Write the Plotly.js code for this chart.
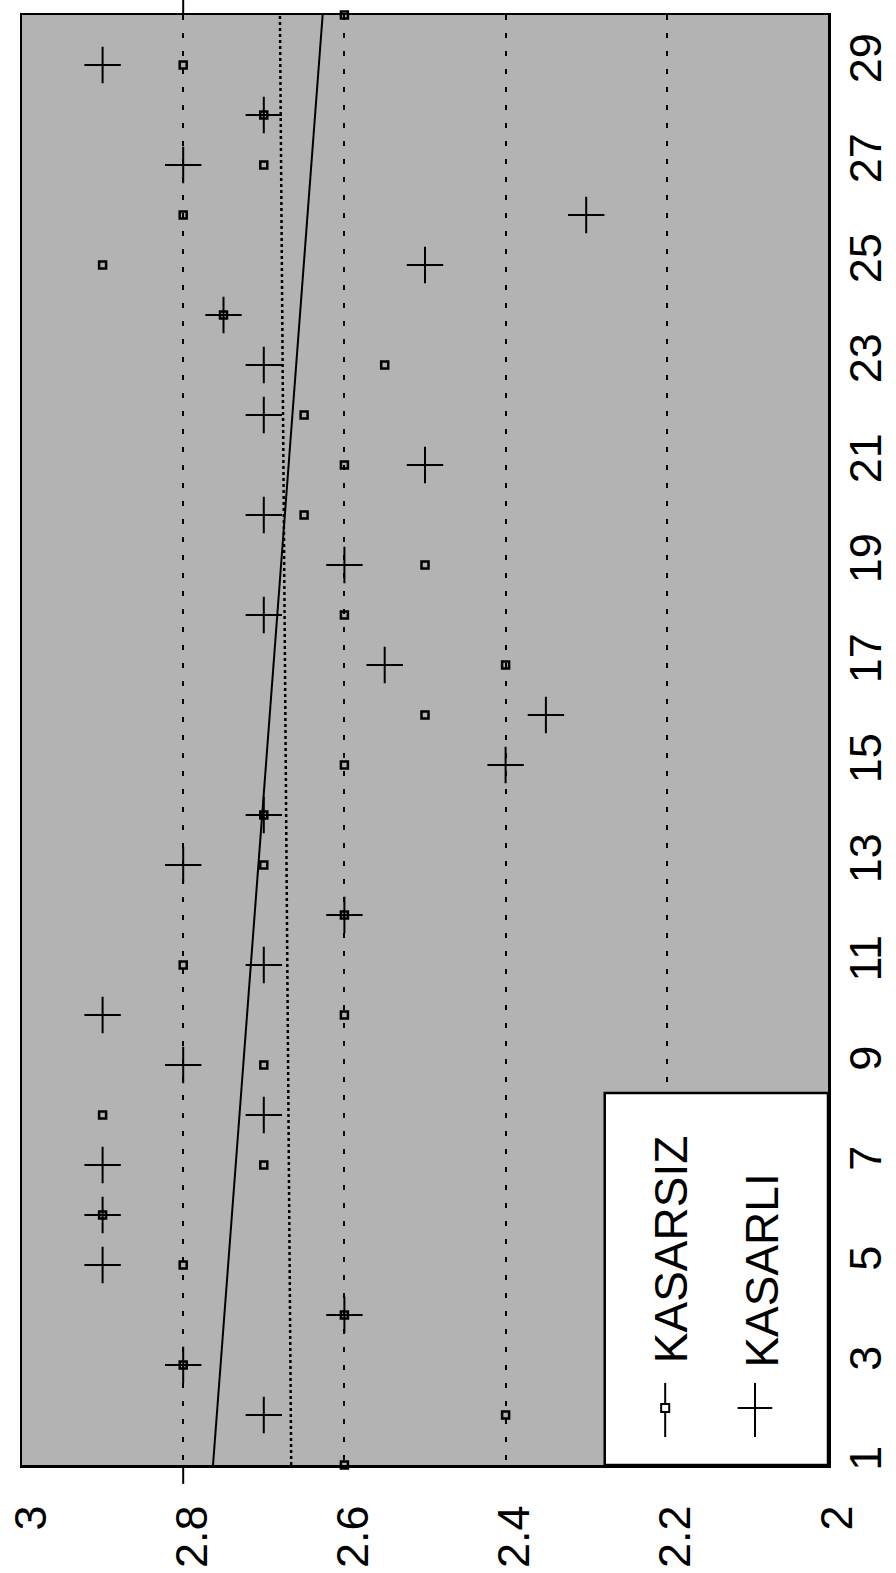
<!DOCTYPE html>
<html>
<head>
<meta charset="utf-8">
<script src="https://cdn.plot.ly/plotly-3.0.1.min.js"></script>
<style>
  html, body { margin: 0; padding: 0; background: #ffffff; }
  #chart { width: 896px; height: 1573px; }
</style>
</head>
<body>
<div id="chart"></div>
<script>
// ---- data (day -> value) ----
const kasarsizDays   = [1, 2, 3, 4, 5, 6, 7, 8, 9, 10, 11, 12, 13, 14, 15, 16, 17, 18, 19, 20, 21, 22, 23, 24, 25, 26, 27, 28, 29, 30];
const kasarsizValues = [2.6, 2.4, 2.8, 2.6, 2.8, 2.9, 2.7, 2.9, 2.7, 2.6, 2.8, 2.6, 2.7, 2.7, 2.6, 2.5, 2.4, 2.6, 2.5, 2.65, 2.6, 2.65, 2.55, 2.75, 2.9, 2.8, 2.7, 2.7, 2.8, 2.6];

const kasarliDays   = [2, 3, 4, 5, 6, 7, 8, 9, 10, 11, 12, 13, 14, 15, 16, 17, 18, 19, 20, 21, 22, 23, 24, 25, 26, 27, 28, 29];
const kasarliValues = [2.7, 2.8, 2.6, 2.9, 2.9, 2.9, 2.7, 2.8, 2.9, 2.7, 2.6, 2.8, 2.7, 2.4, 2.35, 2.55, 2.7, 2.6, 2.7, 2.5, 2.7, 2.7, 2.75, 2.5, 2.3, 2.8, 2.7, 2.9];

// trend lines (end points)
const trendDays     = [1, 30];
const kasarsizTrend = [2.666, 2.68];
const kasarliTrend  = [2.763, 2.627];

// axes
const valueTicks      = [3, 2.8, 2.6, 2.4, 2.2, 2];
const valueTickLabels = ['3', '2.8', '2.6', '2.4', '2.2', '2'];
const dayTicks        = [1, 3, 5, 7, 9, 11, 13, 15, 17, 19, 21, 23, 25, 27, 29];
const dayTickLabels   = ['1', '3', '5', '7', '9', '11', '13', '15', '17', '19', '21', '23', '25', '27', '29'];
const seriesNames     = ['KASARSIZ', 'KASARLI'];

const FONT = 'Liberation Sans, Arial, Helvetica, sans-serif';

const traces = [
  {
    x: kasarsizTrend, y: trendDays, mode: 'lines', showlegend: false, hoverinfo: 'skip',
    line: { color: '#000', width: 2.5, dash: 'dot' }
  },
  {
    x: kasarliTrend, y: trendDays, mode: 'lines', showlegend: false, hoverinfo: 'skip',
    line: { color: '#000', width: 2 }
  },
  {
    name: seriesNames[0], x: kasarsizValues, y: kasarsizDays, mode: 'markers',
    showlegend: false, cliponaxis: false,
    marker: { symbol: 'square-open', size: 7, color: '#000', line: { color: '#000', width: 2.5 } }
  },
  {
    name: seriesNames[1], x: kasarliValues, y: kasarliDays, mode: 'markers',
    showlegend: false, cliponaxis: false,
    marker: { symbol: 'cross-thin', size: 26, color: '#000', line: { color: '#000', width: 2 } }
  }
];

// legend geometry in paper coordinates
const legX0 = 0.723, legY1 = 0.2566;
const symY0 = 0.0193, symY1 = 0.0566, symYc = 0.0393;
const sym1X = 0.798, sym2X = 0.9094;

const shapes = [
  // 2.8 reference line extensions beyond the frame
  { type: 'line', xref: 'x', yref: 'paper', x0: 2.8, x1: 2.8, y0: 1, y1: 1.011, line: { color: '#000', width: 2 } },
  { type: 'line', xref: 'x', yref: 'paper', x0: 2.8, x1: 2.8, y0: -0.013, y1: 0, line: { color: '#000', width: 2 } },
  // legend box
  { type: 'rect', xref: 'paper', yref: 'paper', x0: legX0, x1: 1, y0: 0, y1: legY1, layer: 'above',
    fillcolor: '#ffffff', line: { color: '#000', width: 2.5 } },
  // legend symbol KASARSIZ: line with small square
  { type: 'line', xref: 'paper', yref: 'paper', x0: sym1X, x1: sym1X, y0: symY0, y1: symY1, layer: 'above',
    line: { color: '#000', width: 2 } },
  { type: 'rect', xref: 'paper', yref: 'paper', x0: sym1X - 0.005, x1: sym1X + 0.005, y0: symYc - 0.0028, y1: symYc + 0.0028,
    layer: 'above', fillcolor: '#ffffff', line: { color: '#000', width: 2 } },
  // legend symbol KASARLI: plus
  { type: 'line', xref: 'paper', yref: 'paper', x0: sym2X, x1: sym2X, y0: symY0, y1: symY1, layer: 'above',
    line: { color: '#000', width: 2 } },
  { type: 'line', xref: 'paper', yref: 'paper', x0: sym2X - 0.0215, x1: sym2X + 0.0215, y0: symYc, y1: symYc, layer: 'above',
    line: { color: '#000', width: 2 } }
];

const annotations = [
  { text: seriesNames[0], xref: 'paper', yref: 'paper', x: 0.8055, y: 0.149, textangle: -90,
    showarrow: false, xanchor: 'center', yanchor: 'middle', font: { family: FONT, size: 46, color: '#000' } },
  { text: seriesNames[1], xref: 'paper', yref: 'paper', x: 0.918, y: 0.134, textangle: -90,
    showarrow: false, xanchor: 'center', yanchor: 'middle', font: { family: FONT, size: 46, color: '#000' } }
];

const layout = {
  width: 896, height: 1573,
  margin: { l: 22, r: 68, t: 15, b: 108, pad: 0 },
  paper_bgcolor: '#ffffff',
  plot_bgcolor: '#b3b3b3',
  showlegend: false,
  font: { family: FONT, color: '#000' },
  xaxis: {
    range: [3, 2], autorange: false,
    tickmode: 'array', tickvals: valueTicks, ticktext: valueTickLabels,
    tickangle: -90, tickfont: { family: FONT, size: 45, color: '#000' },
    ticks: '', ticklabelstandoff: 20, ticklabelshift: -9, ticklabeloverflow: 'allow',
    showgrid: true, gridcolor: '#000', gridwidth: 2, griddash: '5px,13px',
    zeroline: false, showline: true, mirror: true, linecolor: '#000', linewidth: 2.5
  },
  yaxis: {
    side: 'right', range: [1, 30], autorange: false,
    tickmode: 'array', tickvals: dayTicks, ticktext: dayTickLabels,
    tickangle: -90, tickfont: { family: FONT, size: 45, color: '#000' },
    ticks: '', ticklabelstandoff: -4, ticklabeloverflow: 'allow',
    showgrid: false, zeroline: false, showline: true, mirror: true, linecolor: '#000', linewidth: 2.5
  },
  shapes: shapes,
  annotations: annotations
};

Plotly.newPlot('chart', traces, layout, { staticPlot: true, displayModeBar: false });
</script>
</body>
</html>
